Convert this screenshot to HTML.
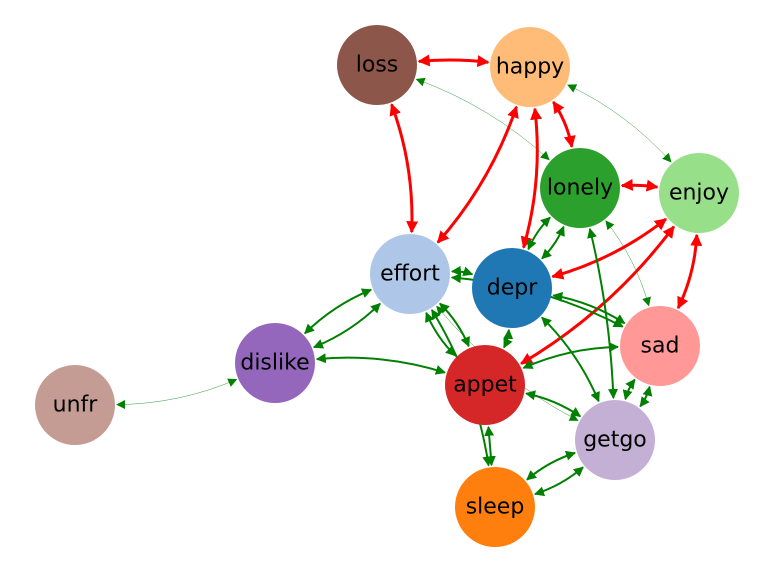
<!DOCTYPE html>
<html><head><meta charset="utf-8"><style>
html,body{margin:0;padding:0;background:#fff}
svg{display:block}
text{font-family:"DejaVu Sans","Liberation Sans",sans-serif;font-size:22px;text-anchor:middle;dominant-baseline:central;fill:#000}
</style></head><body>
<svg id="s" width="775" height="573" viewBox="0 0 775 573">
<defs>
<marker id="mr" viewBox="0 0 10 10" refX="9" refY="5" markerWidth="4" markerHeight="4" orient="auto-start-reverse" markerUnits="strokeWidth"><path d="M0,0L10,5L0,10z" fill="red"/></marker>
<marker id="mg" viewBox="0 0 10 10" refX="9" refY="5" markerWidth="5" markerHeight="5" orient="auto-start-reverse" markerUnits="strokeWidth"><path d="M0,0L10,5L0,10z" fill="green"/></marker>
<marker id="mt" viewBox="0 0 10 10" refX="9" refY="5" markerWidth="9" markerHeight="9" orient="auto-start-reverse" markerUnits="userSpaceOnUse"><path d="M0,0L10,5L0,10z" fill="green"/></marker>
</defs>
<g id="edges"></g>
<g id="nodes">
<circle cx="377" cy="65" r="40" fill="#8c564b"/><text x="377" y="65">loss</text>
<circle cx="530" cy="67" r="40" fill="#ffbb78"/><text x="530" y="67">happy</text>
<circle cx="580" cy="188" r="40" fill="#2ca02c"/><text x="580" y="188">lonely</text>
<circle cx="699" cy="193" r="40" fill="#98df8a"/><text x="699" y="193">enjoy</text>
<circle cx="410" cy="274" r="40" fill="#aec7e8"/><text x="410" y="274">effort</text>
<circle cx="512" cy="288" r="40" fill="#1f77b4"/><text x="512" y="288">depr</text>
<circle cx="275" cy="363" r="40" fill="#9467bd"/><text x="275" y="363">dislike</text>
<circle cx="660" cy="346" r="40" fill="#ff9896"/><text x="660" y="346">sad</text>
<circle cx="485" cy="385" r="40" fill="#d62728"/><text x="485" y="385">appet</text>
<circle cx="75" cy="405" r="40" fill="#c49c94"/><text x="75" y="405">unfr</text>
<circle cx="615" cy="440" r="40" fill="#c5b0d5"/><text x="615" y="440">getgo</text>
<circle cx="495" cy="507" r="40" fill="#ff7f0e"/><text x="495" y="507">sleep</text>
</g>
</svg>
<script>
var P={loss:[377,65],happy:[530,67],lonely:[580,188],enjoy:[699,193],effort:[410,274],depr:[512,288],dislike:[275,363],sad:[660,346],appet:[485,385],unfr:[75,405],getgo:[615,440],sleep:[495,507]};
var E=[
["loss","happy","r",0.05],["loss","effort","r",0.1],["happy","effort","r",0.1],["happy","depr","r",0.1],["happy","lonely","r",0.1],["lonely","enjoy","r",0.05],["enjoy","depr","r",0.1],["enjoy","appet","r",0.1],["enjoy","sad","r",0.1],
["effort","dislike","g",0.1],["dislike","effort","g",0.1],["effort","depr","g",0.1],["effort","sad","g",0.1],["effort","appet","g",0.1],["effort","sleep","g",0.1],
["depr","lonely","g",0.1],["lonely","depr","g",0.1],["depr","appet","g",0.1],["depr","getgo","g",0.1],["depr","sad","g",0.1],["dislike","appet","g",0.1],["appet","sad","g",0.1],["appet","getgo","g",0.1],["appet","sleep","g",0],["lonely","getgo","g",0.05],["getgo","sleep","g",0.1],["sleep","getgo","g",0.1],["getgo","sad","g",0.1],["sad","getgo","g",0.1],["appet","effort","g",0.1],
["dislike","unfr","t",0.1],["lonely","sad","t",0.1],["loss","lonely","t",0.1],["happy","enjoy","t",0.1],["getgo","effort","t",0.1]];
var g=document.getElementById("edges"),ns="http://www.w3.org/2000/svg";
E.forEach(function(e){var a=P[e[0]],b=P[e[1]],dx=b[0]-a[0],dy=b[1]-a[1],r=e[3];
var cx=(a[0]+b[0])/2+r*dy,cy=(a[1]+b[1])/2-r*dx;
function sh(p,c){var vx=c[0]-p[0],vy=c[1]-p[1],l=Math.hypot(vx,vy);return [p[0]+vx/l*42,p[1]+vy/l*42];}
var s=sh(a,[cx,cy]),t=sh(b,[cx,cy]);
var p=document.createElementNS(ns,"path");p.setAttribute("d","M"+s[0]+","+s[1]+"Q"+cx+","+cy+" "+t[0]+","+t[1]);
p.setAttribute("fill","none");
if(e[2]=="r"){p.setAttribute("stroke","red");p.setAttribute("stroke-width","3");p.setAttribute("marker-start","url(#mr)");p.setAttribute("marker-end","url(#mr)");}
else if(e[2]=="g"){p.setAttribute("stroke","green");p.setAttribute("stroke-width","2");p.setAttribute("marker-start","url(#mg)");p.setAttribute("marker-end","url(#mg)");}
else{p.setAttribute("stroke","green");p.setAttribute("stroke-width","0.4");p.setAttribute("marker-start","url(#mt)");p.setAttribute("marker-end","url(#mt)");}
g.appendChild(p);});
</script>
</body></html>
